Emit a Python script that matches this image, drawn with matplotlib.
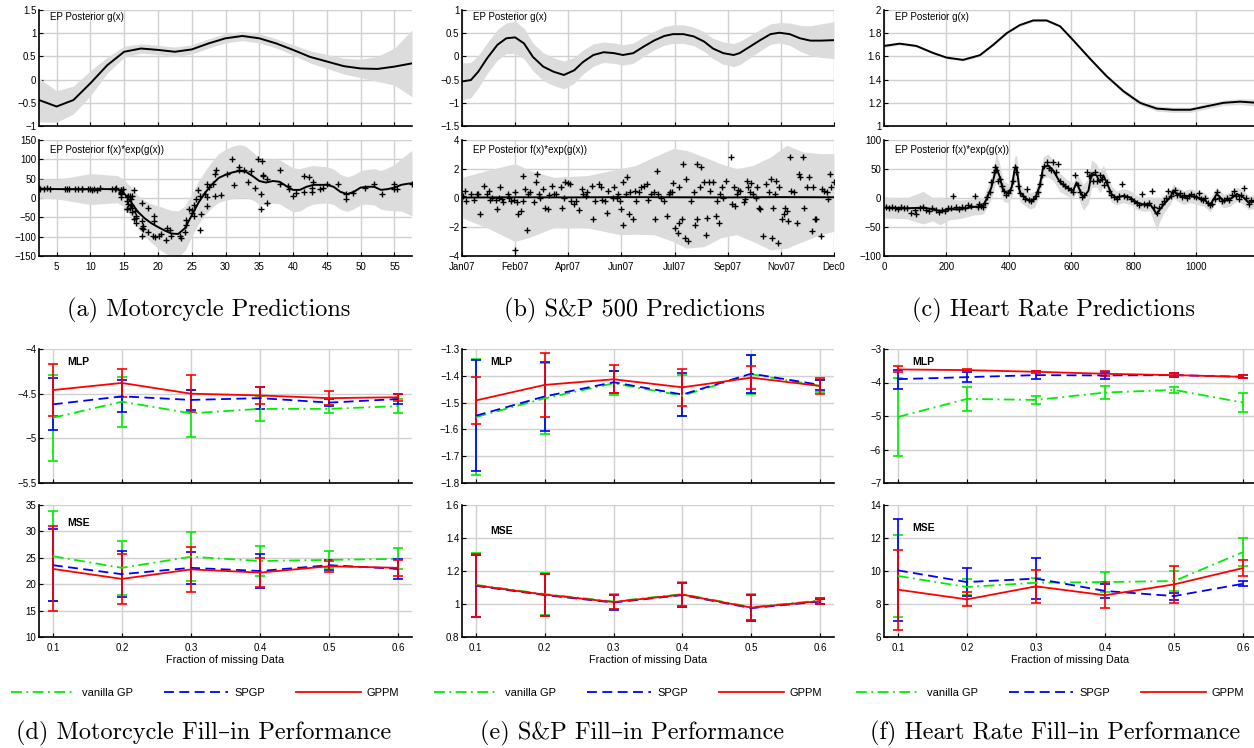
import matplotlib
matplotlib.use("Agg")
import matplotlib.pyplot as plt
from matplotlib.ticker import FuncFormatter
import numpy as np

plt.rcParams['font.family'] = ['Liberation Sans', 'DejaVu Sans']

W, H = 1254, 748

# ---------------- (a) motorcycle ----------------
moto_t = [2.4, 2.6, 3.2, 3.6, 4.0, 6.2, 6.6, 6.8, 7.8, 8.2,
          8.8, 8.8, 9.6, 10.0, 10.2, 10.6, 11.0, 11.4, 13.2, 13.6,
          13.8, 14.6, 14.6, 14.6, 14.6, 14.6, 14.6, 14.8, 15.4, 15.4,
          15.4, 15.4, 15.6, 15.6, 15.8, 15.8, 16.0, 16.0, 16.2, 16.2,
          16.2, 16.4, 16.4, 16.6, 16.8, 16.8, 16.8, 17.6, 17.6, 17.6,
          17.6, 17.8, 17.8, 18.6, 18.6, 19.2, 19.4, 19.4, 19.6, 20.2,
          20.4, 21.2, 21.4, 21.8, 22.0, 23.2, 23.4, 24.0, 24.2, 24.2,
          24.6, 25.0, 25.0, 25.4, 25.4, 25.6, 26.0, 26.2, 26.2, 26.4,
          27.0, 27.2, 27.2, 27.2, 27.6, 28.2, 28.4, 28.4, 28.6, 29.4,
          30.2, 31.0, 31.2, 32.0, 32.0, 32.8, 33.4, 33.8, 34.4, 34.8,
          35.2, 35.2, 35.4, 35.6, 35.6, 36.2, 36.2, 38.0, 38.0, 39.2,
          39.4, 40.0, 40.4, 41.6, 41.6, 42.4, 42.8, 42.8, 43.0, 44.0,
          44.4, 45.0, 46.6, 47.8, 47.8, 48.8, 50.6, 52.0, 53.2, 55.0,
          55.0, 55.4, 57.6]
moto_acc = [25.5, 24.2, 22.8, 25.5, 22.8, 22.8, 22.8, 24.2, 22.8, 22.8,
            24.2, 22.8, 22.8, 22.8, 20.1, 22.8, 20.1, 25.5, 22.8, 22.8,
            25.5, 12.2, 20.1, 20.1, 16.2, 9.5, 2.7, 22.8, 2.7, -6.6,
            -28.0, -29.4, -14.7, 4.0, 4.0, -25.3, -17.4, -1.3, 4.0, -25.3,
            -36.2, 20.1, -54.9, -33.5, -45.5, -65.6, -52.2, -12.0, -60.1, -97.6,
            -76.4, -73.6, -78.9, -87.0, -25.3, -97.6, -60.1, -46.8, -101.7, -97.6,
            -92.4, -108.5, -76.4, -82.9, -97.6, -97.6, -103.0, -87.0, -69.6, -56.3,
            -28.0, -38.9, -32.1, -46.8, -18.8, -1.3, 20.1, -81.6, 4.0, -40.1,
            9.5, -20.1, 1.3, 35.0, 29.5, 37.5, 4.0, 63.0, 72.4, 8.1,
            61.7, 100.5, 33.6, 80.4, 73.7, 72.4, 41.5, 71.1, 26.8, 100.5,
            9.5, -29.4, 95.1, 60.3, 57.6, -12.0, 48.3, 72.4, 36.2, 30.9,
            24.2, 4.0, 12.2, 56.3, 14.8, 54.9, 25.5, 14.8, 40.2, 24.2,
            25.5, 36.2, 36.2, -1.3, 10.8, 12.2, 25.5, 36.2, 10.8, 22.8,
            36.2, 22.8, 36.2]
moto_g_x = [2.4, 5, 7.5, 10, 12.5, 15, 17.5, 20, 22.5, 25, 27.5, 30,
            32.5, 35, 37.5, 40, 42.5, 45, 47.5, 50, 52.5, 55, 57.6]
moto_g_mean = [-0.44, -0.58, -0.44, -0.08, 0.31, 0.60, 0.67, 0.64, 0.60, 0.65, 0.78, 0.89,
               0.94, 0.89, 0.78, 0.64, 0.49, 0.39, 0.29, 0.24, 0.23, 0.28, 0.35]
moto_g_band = [0.47, 0.34, 0.30, 0.27, 0.17, 0.12, 0.10, 0.10, 0.10, 0.10, 0.10, 0.10,
               0.10, 0.10, 0.10, 0.11, 0.13, 0.15, 0.17, 0.20, 0.27, 0.40, 0.72]
moto_f_x = [2.4, 5, 10, 14, 15, 16, 17, 18, 19, 20, 21, 22, 23, 24, 25, 26,
            27, 28, 29, 30, 31, 32, 33, 34, 35, 36, 37, 38, 39, 40, 41, 42,
            43, 44, 45, 46, 47, 48, 49, 50, 51, 52, 53, 54, 55, 56, 57, 57.6]
moto_f_mean = [24, 23, 23, 23, 12, -10, -35, -52, -65, -75, -84, -92, -93, -78, -45, -12,
               14, 35, 52, 60, 66, 70, 68, 57, 44, 40, 44, 42, 31, 21, 21, 29,
               34, 34, 34, 29, 16, 10, 16, 27, 29, 29, 21, 23, 27, 34, 37, 38]
moto_f_band = [25, 25, 40, 35, 35, 38, 42, 46, 50, 55, 58, 60, 60, 58, 55, 55,
               57, 60, 63, 66, 68, 68, 66, 62, 60, 58, 57, 57, 57, 57, 55, 52,
               50, 48, 47, 46, 45, 45, 44, 44, 45, 47, 50, 55, 60, 68, 78, 85]

# ---------------- (b) S&P 500 ----------------
sp_days = [1, 2, 3, 6, 8, 10, 11, 12, 15, 17,
           18, 19, 20, 23, 24, 25, 26, 27, 28, 31,
           32, 33, 35, 36, 36, 37, 38, 40, 41, 41,
           43, 44, 45, 46, 49, 50, 51, 52, 53, 55,
           56, 58, 59, 61, 62, 64, 67, 68, 69, 70,
           72, 73, 74, 76, 77, 79, 81, 82, 84, 85,
           88, 89, 90, 93, 94, 95, 97, 98, 99, 102,
           103, 105, 106, 107, 108, 109, 109, 111, 112, 113,
           114, 116, 117, 118, 120, 121, 123, 125, 126, 128,
           130, 131, 132, 133, 135, 137, 139, 140, 141, 142,
           143, 144, 146, 147, 147, 149, 150, 151, 152, 153,
           155, 157, 158, 159, 159, 161, 162, 164, 165, 166,
           167, 168, 170, 172, 173, 174, 175, 176, 177, 179,
           182, 183, 184, 185, 186, 187, 188, 191, 192, 193,
           194, 195, 196, 197, 199, 200, 201, 202, 204, 206,
           208, 209, 210, 211, 212, 213, 214, 215, 217, 218,
           219, 220, 221, 222, 223, 225, 227, 228, 229, 231,
           232, 234, 235, 237, 238, 239, 240, 243, 244, 245,
           247, 248, 249, 250, 252]
sp_ret = [0.15, 0.50, -0.20, 0.31, -0.15, 0.27, 0.31, -1.13, 0.85, 0.27,
          0.50, -0.15, 0.03, -0.15, -0.78, 0.03, 0.73, -0.08, -0.31, 0.27,
          0.03, -0.20, -0.15, 0.38, -3.58, -0.31, -1.13, -0.90, 1.55, -0.20,
          0.62, -2.18, 0.27, 0.38, -0.31, 1.08, 1.67, 0.27, 0.03, 0.62,
          -0.66, -0.78, 0.22, 0.85, 0.27, 0.27, 0.73, -0.66, 0.03, 1.08,
          1.01, 0.97, -0.20, -0.43, -0.20, -0.85, 0.62, 0.27, 0.15, 0.38,
          0.85, -1.48, -0.20, 0.97, 0.73, -0.15, -0.20, -1.01, 0.50, 0.03,
          0.73, 0.03, 0.27, -0.20, -0.78, 1.08, -1.83, 0.27, 1.43, -1.13,
          0.38, -1.48, 0.50, -0.20, 0.38, 0.73, 0.85, 0.97, -0.15, 0.27,
          0.38, -1.48, 1.85, 0.27, 0.03, -0.20, -1.25, 0.27, 0.38, 0.38,
          1.01, -2.06, -2.41, -1.71, 0.73, -1.48, 2.37, -2.76, 1.32, -3.00,
          -0.20, 0.38, -1.83, -1.48, 2.37, 0.73, 2.13, 1.08, -2.53, -1.36,
          1.08, 0.50, 1.08, -1.25, -0.20, -1.71, 0.27, 0.73, 0.03, 1.20,
          2.83, -0.43, 0.73, -0.55, 0.27, 0.55, 0.45, -0.31, -0.08, 1.20,
          0.73, 0.38, 1.01, 0.27, 0.03, 0.73, -0.66, -0.78, -2.65, 0.97,
          0.38, 1.32, -2.76, -0.66, 0.27, 1.20, -3.11, 0.73, -1.48, -1.13,
          -0.66, -0.90, -1.60, 2.83, 0.50, 0.38, -1.71, 1.67, 1.43, 2.83,
          -0.66, 0.73, 1.43, -2.30, 0.73, -1.48, -1.48, -2.65, 0.62, 0.50,
          0.38, -0.08, 1.67, 0.73, 1.08]
sp_g_x = [0, 6, 11, 17, 24, 30, 36, 42, 48, 55, 62, 69, 76, 82, 89, 96, 103, 109, 116, 123,
          130, 137, 143, 150, 157, 164, 170, 177, 184, 188, 195, 202, 209, 215, 222, 229, 236, 243, 252]
sp_g_mean = [-0.54, -0.51, -0.33, -0.04, 0.25, 0.39, 0.41, 0.28, -0.01, -0.22, -0.33, -0.40, -0.30,
             -0.12, 0.03, 0.09, 0.07, 0.03, 0.07, 0.21, 0.34, 0.44, 0.48, 0.48, 0.43, 0.32, 0.17,
             0.07, 0.03, 0.07, 0.21, 0.35, 0.48, 0.51, 0.48, 0.39, 0.34, 0.34, 0.35]
sp_g_band = [0.40, 0.38, 0.35, 0.33, 0.33, 0.33, 0.35, 0.33, 0.30, 0.30, 0.30, 0.30, 0.28,
             0.26, 0.24, 0.22, 0.22, 0.22, 0.22, 0.21, 0.20, 0.20, 0.20, 0.20, 0.20, 0.21, 0.22,
             0.24, 0.25, 0.25, 0.24, 0.23, 0.22, 0.22, 0.24, 0.28, 0.32, 0.36, 0.40]
sp_f_x = [0, 36, 72, 108, 144, 180, 216, 252]
sp_f_mean = [0.03, 0.05, 0.04, 0.06, 0.05, 0.04, 0.06, 0.05]
sp_band_x = [0, 17, 36, 46, 62, 85, 107, 118, 130, 143, 152, 164, 175, 186, 197, 209, 220, 231, 243, 252]
sp_band_lo = [-1.36, -2.06, -3.00, -2.70, -2.06, -2.06, -2.53, -2.50, -2.53, -3.00,
              -3.46, -3.35, -2.76, -2.53, -3.00, -3.58, -3.46, -3.00, -2.53, -2.30]
sp_band_hi = [1.43, 1.90, 2.37, 1.90, 1.43, 1.55, 2.02, 2.25, 2.83, 3.41,
              3.29, 2.83, 2.37, 2.02, 2.25, 2.83, 3.64, 3.18, 3.06, 3.06]
sp_tick_days = [0, 36, 72, 108, 144, 180, 216, 252]
sp_tick_labels = ['Jan07', 'Feb07', 'Apr07', 'Jun07', 'Jul07', 'Sep07', 'Nov07', 'Dec0']

# ---------------- (c) heart rate ----------------
hr_t = [5, 15, 25, 35, 45, 55, 65, 75, 88, 98,
        104, 115, 125, 135, 145, 155, 165, 175, 185, 195,
        205, 215, 221, 230, 240, 250, 260, 270, 280, 291,
        300, 305, 310, 318, 322, 330, 340, 344, 352, 355,
        360, 366, 371, 377, 385, 392, 398, 405, 412, 419,
        423, 430, 437, 445, 452, 457, 463, 470, 478, 487,
        493, 499, 505, 512, 521, 528, 535, 542, 550, 558,
        565, 572, 580, 590, 598, 605, 612, 620, 628, 635,
        642, 649, 656, 663, 670, 676, 684, 692, 699, 706,
        713, 720, 728, 736, 745, 752, 761, 770, 780, 790,
        800, 810, 818, 826, 834, 842, 850, 858, 866, 874,
        882, 890, 898, 905, 911, 918, 925, 932, 940, 948,
        955, 962, 970, 978, 985, 992, 1000, 1008, 1015, 1022,
        1030, 1038, 1045, 1052, 1060, 1066, 1074, 1082, 1090, 1098,
        1106, 1114, 1120, 1128, 1136, 1144, 1152, 1160, 1168, 1176,
        1184]
hr_val = [-16, -18, -15, -17, -19, -16, -18, -17, -25, -20,
          -28, -18, -16, -20, -22, -18, -21, -24, -20, -22,
          -17, -18, 4, -16, -19, -15, -17, -12, -14, 4,
          -16, -10, -13, -15, -8, 2, 10, 27, 45, 53,
          48, 30, 33, 20, 12, 6, 9, 14, 30, 53,
          45, 20, 8, 3, -2, 15, -3, -6, -1, 3,
          10, 24, 40, 55, 62, 52, 48, 62, 45, 59,
          30, 25, 20, 18, 14, 10, 39, 22, 10, 2,
          5, 45, 38, 40, 30, 45, 30, 39, 32, 22,
          28, 12, 5, 2, -1, 4, 24, 3, 2, -2,
          -6, -9, -12, 7, -10, -12, -8, 12.5, -15, -25,
          -18, -10, -6, 0, 12.5, 3, 10, 14, 6, 8,
          2, 5, 0, 4, 7, 3, 1, 8, -2, -4,
          0, -8, -12, -10, -2, 10, 0, -6, -4, 0,
          -3, 6, 12.5, 3, -2, 5, 18, 0, -10, -4,
          -6]
hr_g_x = [0, 50, 104, 157, 200, 253, 307, 350, 393, 435, 478, 521, 564,
          606, 660, 713, 767, 820, 874, 927, 981, 1034, 1088, 1141, 1195]
hr_g_mean = [1.69, 1.71, 1.69, 1.63, 1.59, 1.57, 1.61, 1.70, 1.80, 1.87, 1.91, 1.91, 1.86,
             1.74, 1.58, 1.43, 1.30, 1.20, 1.15, 1.14, 1.14, 1.17, 1.20, 1.21, 1.20]
hr_g_band = [0.015, 0.01, 0.01, 0.01, 0.01, 0.01, 0.01, 0.01, 0.01, 0.01, 0.01, 0.01, 0.01,
             0.01, 0.012, 0.015, 0.018, 0.02, 0.022, 0.022, 0.022, 0.022, 0.022, 0.025, 0.03]
hr_f_x = [0, 72, 125, 157, 179, 211, 243, 286, 318, 328,
          344, 355, 360, 371, 382, 398, 409, 419, 425, 435,
          451, 467, 483, 499, 510, 526, 542, 564, 585, 606,
          617, 628, 639, 655, 665, 681, 692, 703, 713, 729,
          745, 767, 788, 810, 831, 852, 874, 884, 901, 917,
          927, 938, 959, 981, 1002, 1024, 1045, 1066, 1088, 1109,
          1131, 1152, 1168, 1195]
hr_f_mean = [-16.6, -17.8, -16.6, -19.5, -22.4, -19.5, -19.5, -15.5, -13.7, -2,
             18, 42, 53, 36, 12.5, 8, 18, 50, 53, 10,
             1, -5, -2, 21, 53, 56, 47.5, 27, 18, 12.5,
             27, 12.5, 1, 12.5, 42, 39, 27, 39, 27, 7,
             0, 4, 1, -8, -11, -10, -28, -19.5, -8, 1,
             12.5, 7, 1, 4, 1, -2, -12, 7, -5, -2,
             7, 1, -8, -5]
hr_f_band = [18, 18, 28, 20, 24, 18, 16, 14, 14, 16,
             20, 22, 25, 22, 18, 16, 18, 22, 20, 16,
             14, 14, 14, 16, 18, 20, 18, 16, 14, 14,
             16, 20, 22, 22, 24, 20, 18, 18, 16, 14,
             12, 12, 12, 12, 12, 12, 28, 20, 14, 12,
             12, 12, 12, 12, 12, 12, 12, 12, 12, 12,
             12, 12, 12, 12]

# ---------------- fill-in performance ----------------
frac = [0.1, 0.2, 0.3, 0.4, 0.5, 0.6]

moto_mlp_vanilla = [-4.77, -4.59, -4.72, -4.67, -4.67, -4.64]
moto_mlp_vanilla_err = [0.48, 0.28, 0.26, 0.14, 0.045, 0.075]
moto_mlp_spgp = [-4.62, -4.53, -4.57, -4.55, -4.60, -4.56]
moto_mlp_spgp_err = [0.29, 0.18, 0.115, 0.12, 0.035, 0.06]
moto_mlp_gppm = [-4.46, -4.38, -4.50, -4.52, -4.55, -4.54]
moto_mlp_gppm_err = [0.29, 0.16, 0.205, 0.10, 0.075, 0.04]
moto_mse_vanilla = [25.3, 23.1, 25.2, 24.4, 24.6, 24.8]
moto_mse_vanilla_err = [8.5, 5.15, 4.6, 2.85, 1.6, 2.0]
moto_mse_spgp = [23.6, 21.9, 23.1, 22.5, 23.6, 22.9]
moto_mse_spgp_err = [6.8, 4.35, 3.0, 3.25, 0.95, 1.85]
moto_mse_gppm = [22.9, 21.0, 22.8, 22.2, 23.4, 23.1]
moto_mse_gppm_err = [8.05, 4.75, 4.2, 2.75, 1.0, 1.55]

sp_mlp_vanilla = [-1.554, -1.484, -1.428, -1.474, -1.394, -1.438]
sp_mlp_vanilla_err = [0.215, 0.133, 0.045, 0.077, 0.073, 0.023]
sp_mlp_spgp = [-1.549, -1.477, -1.424, -1.470, -1.392, -1.434]
sp_mlp_spgp_err = [0.207, 0.13, 0.042, 0.079, 0.071, 0.02]
sp_mlp_gppm = [-1.492, -1.434, -1.413, -1.443, -1.407, -1.438]
sp_mlp_gppm_err = [0.086, 0.12, 0.052, 0.069, 0.042, 0.029]
sp_mse_vanilla = [1.116, 1.060, 1.015, 1.060, 0.981, 1.021]
sp_mse_vanilla_err = [0.195, 0.125, 0.045, 0.072, 0.077, 0.018]
sp_mse_spgp = [1.110, 1.054, 1.009, 1.054, 0.975, 1.015]
sp_mse_spgp_err = [0.19, 0.125, 0.045, 0.072, 0.077, 0.018]
sp_mse_gppm = [1.113, 1.057, 1.012, 1.057, 0.978, 1.018]
sp_mse_gppm_err = [0.19, 0.127, 0.045, 0.072, 0.077, 0.018]

hr_mlp_vanilla = [-5.03, -4.49, -4.52, -4.30, -4.22, -4.60]
hr_mlp_vanilla_err = [1.15, 0.365, 0.12, 0.205, 0.10, 0.29]
hr_mlp_spgp = [-3.90, -3.84, -3.78, -3.79, -3.78, -3.83]
hr_mlp_spgp_err = [0.28, 0.155, 0.115, 0.095, 0.065, 0.045]
hr_mlp_gppm = [-3.61, -3.63, -3.68, -3.74, -3.78, -3.83]
hr_mlp_gppm_err = [0.09, 0.035, 0.035, 0.07, 0.065, 0.045]
hr_mse_vanilla = [9.70, 9.03, 9.29, 9.33, 9.39, 11.15]
hr_mse_vanilla_err = [2.5, 0.5, 0.26, 0.58, 0.63, 0.86]
hr_mse_spgp = [10.04, 9.33, 9.54, 8.79, 8.48, 9.23]
hr_mse_spgp_err = [3.1, 0.85, 1.25, 0.42, 0.21, 0.15]
hr_mse_gppm = [8.87, 8.28, 9.07, 8.53, 9.19, 10.18]
hr_mse_gppm_err = [2.43, 0.43, 1.0, 0.78, 1.1, 0.48]

method_names = ['vanilla GP', 'SPGP', 'GPPM']
method_colors = ['#00ee00', '#0000ff', '#ff0000']
method_styles = [(0, (6, 2.5, 1, 2.5)), (0, (5.5, 3)), '-']

captions = ['(a) Motorcycle Predictions', '(b) S&P 500 Predictions', '(c) Heart Rate Predictions',
            '(d) Motorcycle Fill\u2013in Performance', '(e) S&P Fill\u2013in Performance',
            '(f) Heart Rate Fill\u2013in Performance']

BAND = '#dcdcdc'
GRID = '#d0d0d0'
minus_fmt = FuncFormatter(lambda v, p: ('%g' % v).replace('-', '\u2212'))

fig = plt.figure(figsize=(W / 100, H / 100), dpi=100)


def add_axes_px(left, top, right, bottom):
    # pixel box (from top-left) -> figure fraction
    return fig.add_axes([left / W, 1 - bottom / H, (right - left) / W, (bottom - top) / H])


def style(ax):
    ax.grid(True, color=GRID, lw=1.0)
    ax.set_axisbelow(True)
    for s in ['top', 'right']:
        ax.spines[s].set_visible(False)
    for s in ['left', 'bottom']:
        ax.spines[s].set_linewidth(1.2)
    ax.tick_params(direction='in', length=3, width=0.8, labelsize=7)
    ax.tick_params(axis='x', pad=4)
    ax.tick_params(axis='y', pad=2)
    ax.yaxis.set_major_formatter(minus_fmt)


cols = [(39, 412), (462, 834), (884, 1257)]

# ---------------- top row ----------------
top_sets = [
    (moto_g_x, moto_g_mean, moto_g_band, moto_f_x, moto_f_mean, moto_f_band, moto_t, moto_acc),
    (sp_g_x, sp_g_mean, sp_g_band, sp_f_x, sp_f_mean, None, sp_days, sp_ret),
    (hr_g_x, hr_g_mean, hr_g_band, hr_f_x, hr_f_mean, hr_f_band, hr_t, hr_val),
]
top_xlims = [(2.4, 57.6), (0, 252), (0, 1195)]
top_xticks = [list(range(5, 56, 5)), sp_tick_days, [0, 200, 400, 600, 800, 1000]]
g_ylims = [(-1, 1.5), (-1.5, 1), (1, 2)]
g_yticks = [[-1, -0.5, 0, 0.5, 1, 1.5], [-1.5, -1, -0.5, 0, 0.5, 1], [1, 1.2, 1.4, 1.6, 1.8, 2]]
f_ylims = [(-150, 150), (-4, 4), (-100, 100)]
f_yticks = [list(range(-150, 151, 50)), [-4, -2, 0, 2, 4], [-100, -50, 0, 50, 100]]

for i, (gx, gm, gb, fx, fm, fb, px, py) in enumerate(top_sets):
    l, r = cols[i]
    ax_g = add_axes_px(l, 10, r, 126)
    style(ax_g)
    gx_a, gm_a, gb_a = np.array(gx), np.array(gm), np.array(gb)
    ax_g.fill_between(gx_a, gm_a - gb_a, gm_a + gb_a, color=BAND, lw=0)
    ax_g.plot(gx, gm, color='k', lw=1.4)
    ax_g.set_xlim(*top_xlims[i])
    ax_g.set_ylim(*g_ylims[i])
    ax_g.set_xticks(top_xticks[i])
    ax_g.set_xticklabels([])
    ax_g.set_yticks(g_yticks[i])
    ax_g.text(0.03, 0.94, 'EP Posterior g(x)', transform=ax_g.transAxes, fontsize=7, va='center')

    ax_f = add_axes_px(l, 140, r, 256)
    style(ax_f)
    if fb is None:
        ax_f.fill_between(sp_band_x, sp_band_lo, sp_band_hi, color=BAND, lw=0)
    else:
        fx_a, fm_a, fb_a = np.array(fx), np.array(fm), np.array(fb)
        ax_f.fill_between(fx_a, fm_a - fb_a, fm_a + fb_a, color=BAND, lw=0)
    ax_f.plot(fx, fm, color='k', lw=1.4)
    ax_f.plot(px, py, '+', color='k', ms=4, mew=1.0)
    ax_f.set_xlim(*top_xlims[i])
    ax_f.set_ylim(*f_ylims[i])
    ax_f.set_xticks(top_xticks[i])
    if i == 1:
        ax_f.set_xticklabels(sp_tick_labels)
    ax_f.set_yticks(f_yticks[i])
    ax_f.text(0.03, 0.91, 'EP Posterior f(x)*exp(g(x))', transform=ax_f.transAxes, fontsize=7, va='center')

# ---------------- bottom row ----------------
bottom_sets = [
    ((moto_mlp_vanilla, moto_mlp_vanilla_err, moto_mlp_spgp, moto_mlp_spgp_err, moto_mlp_gppm, moto_mlp_gppm_err),
     (moto_mse_vanilla, moto_mse_vanilla_err, moto_mse_spgp, moto_mse_spgp_err, moto_mse_gppm, moto_mse_gppm_err)),
    ((sp_mlp_vanilla, sp_mlp_vanilla_err, sp_mlp_spgp, sp_mlp_spgp_err, sp_mlp_gppm, sp_mlp_gppm_err),
     (sp_mse_vanilla, sp_mse_vanilla_err, sp_mse_spgp, sp_mse_spgp_err, sp_mse_gppm, sp_mse_gppm_err)),
    ((hr_mlp_vanilla, hr_mlp_vanilla_err, hr_mlp_spgp, hr_mlp_spgp_err, hr_mlp_gppm, hr_mlp_gppm_err),
     (hr_mse_vanilla, hr_mse_vanilla_err, hr_mse_spgp, hr_mse_spgp_err, hr_mse_gppm, hr_mse_gppm_err)),
]
mlp_ylims = [(-5.5, -4), (-1.8, -1.3), (-7, -3)]
mlp_yticks = [[-5.5, -5, -4.5, -4], [-1.8, -1.7, -1.6, -1.5, -1.4, -1.3], [-7, -6, -5, -4, -3]]
mse_ylims = [(10, 35), (0.8, 1.6), (6, 14)]
mse_yticks = [[10, 15, 20, 25, 30, 35], [0.8, 1.0, 1.2, 1.4, 1.6], [6, 8, 10, 12, 14]]
mse_label_y = [0.864, 0.80, 0.826]


def draw_methods(ax, vals):
    handles = []
    for k in range(3):
        eb = ax.errorbar(frac, vals[2 * k], yerr=vals[2 * k + 1], color=method_colors[k],
                         linestyle=method_styles[k], lw=1.3, elinewidth=1.2, capsize=3.5, capthick=1.2)
        eb[2][0].set_linestyle('-')
        handles.append(eb[0])
    return handles


for i, (mlp_vals, mse_vals) in enumerate(bottom_sets):
    l, r = cols[i]
    ax_m = add_axes_px(l, 349, r, 483)
    style(ax_m)
    draw_methods(ax_m, mlp_vals)
    ax_m.set_xlim(0.08, 0.62)
    ax_m.set_ylim(*mlp_ylims[i])
    ax_m.set_xticks(frac)
    ax_m.set_xticklabels([])
    ax_m.set_yticks(mlp_yticks[i])
    ax_m.text(0.075, 0.90, 'MLP', transform=ax_m.transAxes, fontsize=7.5, fontweight='bold', va='center')

    ax_s = add_axes_px(l, 505, r, 637)
    style(ax_s)
    handles = draw_methods(ax_s, mse_vals)
    ax_s.set_xlim(0.08, 0.62)
    ax_s.set_ylim(*mse_ylims[i])
    ax_s.set_xticks(frac)
    ax_s.set_yticks(mse_yticks[i])
    ax_s.text(0.075, mse_label_y[i], 'MSE', transform=ax_s.transAxes, fontsize=7.5, fontweight='bold', va='center')
    ax_s.set_xlabel('Fraction of missing Data', fontsize=7.8, labelpad=2)
    ax_s.legend(handles, method_names, ncol=3, loc='center left', bbox_to_anchor=(-0.075, -0.424),
                frameon=False, fontsize=8, handlelength=5.8, handletextpad=0.55, columnspacing=2.8,
                borderaxespad=0, borderpad=0)

# ---------------- captions ----------------
cap_pos = [(209, 310), (634, 310), (1053, 310), (204, 733), (632, 733), (1055, 733)]
for txt, (cx, cy) in zip(captions, cap_pos):
    fig.text(cx / W, 1 - cy / H, txt, ha='center', va='center', fontsize=17.5,
             family=['cmr10', 'DejaVu Serif'])

fig.savefig('out.png', dpi=100)
